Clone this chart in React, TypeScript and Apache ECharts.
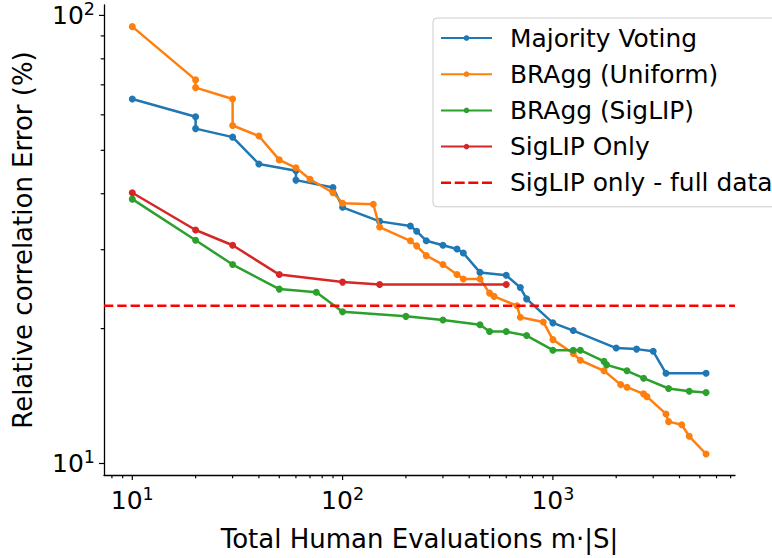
import React, { useEffect, useRef } from 'react';
import * as echarts from 'echarts';

const FONT = 'DejaVu Sans';

// Axis extents (log scale)
const X_MIN = 7.336;
const X_MAX = 7345;
const Y_MIN = 9.426;
const Y_MAX = 105.5;

// Series data
const majorityX = [10, 20, 20, 30, 40, 60, 60, 90, 100, 150, 210, 225, 250, 300, 350, 375, 450, 600, 700, 750, 1000, 1250, 2000, 2500, 3000, 3450, 5350];
const majorityY = [65.1, 59.4, 55.9, 53.5, 46.6, 45.0, 42.9, 41.3, 37.3, 34.7, 33.9, 33.0, 31.4, 30.7, 30.1, 29.5, 26.7, 26.3, 24.7, 23.3, 20.6, 19.8, 18.1, 18.0, 17.8, 15.9, 15.9];

const uniformX = [10, 20, 20, 30, 30, 40, 50, 60, 70, 90, 100, 140, 150, 210, 225, 250, 300, 350, 375, 450, 500, 525, 675, 700, 900, 1000, 1250, 1350, 1750, 2100, 2250, 2700, 2800, 3450, 3550, 4100, 4450, 5350];
const uniformY = [94.4, 71.8, 69.0, 65.1, 56.8, 53.8, 47.6, 45.7, 43.1, 40.2, 38.1, 37.9, 33.7, 31.4, 30.6, 29.1, 27.8, 26.4, 25.8, 25.8, 24.0, 23.6, 22.5, 21.2, 20.7, 18.9, 17.6, 17.0, 16.1, 15.0, 14.8, 14.3, 14.1, 12.9, 12.4, 12.2, 11.5, 10.5];

const siglipAggX = [10, 20, 30, 50, 75, 100, 200, 300, 450, 500, 600, 750, 1000, 1250, 1350, 1750, 1800, 2250, 2700, 3550, 4450, 5350];
const siglipAggY = [38.9, 31.5, 27.8, 24.5, 24.1, 21.8, 21.3, 20.9, 20.4, 19.7, 19.7, 19.3, 17.9, 17.9, 17.9, 16.9, 16.6, 16.1, 15.5, 14.7, 14.5, 14.4];

const siglipOnlyX = [10, 20, 30, 50, 100, 150, 600];
const siglipOnlyY = [40.2, 33.2, 30.7, 26.4, 25.4, 25.1, 25.1];

const fullDataValue = 22.5;

const seriesNames = ['Majority Voting', 'BRAgg (Uniform)', 'BRAgg (SigLIP)', 'SigLIP Only', 'SigLIP only - full data'];
const seriesColors = ['#1f77b4', '#ff7f0e', '#2ca02c', '#d62728', '#ff0000'];

const pairs = (xs: number[], ys: number[]) => xs.map((x, i) => [x, ys[i]]);

const isPow10 = (v: number) => {
  const e = Math.log10(v);
  return Math.abs(e - Math.round(e)) < 1e-6;
};

const logTicks = (lo: number, hi: number) => {
  const out: number[] = [];
  for (let e = -1; e <= 5; e++) {
    for (let m = 1; m <= 9; m++) {
      const v = m * Math.pow(10, e);
      if (v >= lo && v <= hi) out.push(v);
    }
  }
  return out;
};

const labelFmt = (v: number) => {
  if (!isPow10(v)) return '';
  return `{b|10}{s|${Math.round(Math.log10(v))}}`;
};

const rich = {
  b: { fontFamily: FONT, fontSize: 25, lineHeight: 31, color: '#000' },
  s: { fontFamily: FONT, fontSize: 17.5, lineHeight: 17.5, verticalAlign: 'top', color: '#000' },
};

const TICK_W = 1.2;

export default function App() {
  const ref = useRef<HTMLDivElement>(null);
  useEffect(() => {
    document.body.style.margin = '0';
    const chart = echarts.init(ref.current!, undefined, { renderer: 'svg' });
    const lineSeries = [
      [majorityX, majorityY],
      [uniformX, uniformY],
      [siglipAggX, siglipAggY],
      [siglipOnlyX, siglipOnlyY],
    ].map(([xs, ys], i) => ({
      type: 'line',
      name: seriesNames[i],
      data: pairs(xs, ys),
      color: seriesColors[i],
      lineStyle: { width: 2.5, color: seriesColors[i] },
      itemStyle: { color: seriesColors[i], borderWidth: 0 },
      symbol: 'circle',
      symbolSize: 7,
      showSymbol: true,
      silent: true,
      z: 2 + i,
    }));

    const option: any = {
      animation: false,
      grid: { left: 104, right: 37, top: 5, bottom: 83, outerBoundsMode: 'none' },
      xAxis: {
        type: 'log',
        logBase: 10,
        min: X_MIN,
        max: X_MAX,
        name: 'Total Human Evaluations m·|S|',
        nameLocation: 'middle',
        nameGap: 51,
        nameTextStyle: { fontFamily: FONT, fontSize: 26, color: '#000' },
        axisLine: { show: true, onZero: false, lineStyle: { color: '#000', width: 1.3 } },
        axisTick: { show: false },
        minorTick: { show: false },
        splitLine: { show: false },
        axisLabel: { formatter: labelFmt, margin: 10, rich, showMinLabel: true, showMaxLabel: true },
      },
      yAxis: {
        type: 'log',
        logBase: 10,
        min: Y_MIN,
        max: Y_MAX,
        name: 'Relative correlation Error (%)',
        nameLocation: 'middle',
        nameGap: 68,
        nameTextStyle: { fontFamily: FONT, fontSize: 26, color: '#000' },
        axisLine: { show: true, onZero: false, lineStyle: { color: '#000', width: 1.3 } },
        axisTick: { show: false },
        minorTick: { show: false },
        splitLine: { show: false },
        axisLabel: { formatter: labelFmt, margin: 9, rich },
      },
      legend: {
        orient: 'vertical',
        left: 433,
        top: 18,
        padding: [6, 12, 10, 7],
        itemWidth: 51,
        itemHeight: 7,
        itemGap: 8.2,
        backgroundColor: 'rgba(255,255,255,0.8)',
        borderColor: '#cccccc',
        borderWidth: 1,
        borderRadius: 4,
        selectedMode: false,
        textStyle: { fontFamily: FONT, fontSize: 24.9, lineHeight: 28, color: '#000', padding: [0, 0, 0, 13] },
        data: [
          seriesNames[0],
          seriesNames[1],
          seriesNames[2],
          seriesNames[3],
          {
            name: seriesNames[4],
            icon: 'path://M0,0h10v2.5h-10z M13.7,0h10v2.5h-10z M27.3,0h10v2.5h-10z M41,0h10v2.5h-10z',
            itemStyle: { color: seriesColors[4], borderWidth: 0 },
          },
        ],
      },
      series: [
        ...lineSeries,
        {
          type: 'line',
          name: seriesNames[4],
          data: [[X_MIN, fullDataValue], [X_MAX, fullDataValue]],
          color: seriesColors[4],
          symbol: 'none',
          lineStyle: { width: 2.5, color: seriesColors[4], type: [9.3, 4] },
          silent: true,
          z: 7,
        },
        {
          type: 'custom',
          coordinateSystem: 'cartesian2d',
          silent: true,
          clip: false,
          data: logTicks(X_MIN, X_MAX).map((v) => [v, Y_MIN]),
          renderItem: (_p: any, api: any) => {
            const v = api.value(0);
            const pt = api.coord([v, Y_MIN]);
            const len = isPow10(v) ? 5 : 3.3;
            return {
              type: 'line',
              shape: { x1: pt[0], y1: pt[1], x2: pt[0], y2: pt[1] + len },
              style: { stroke: '#000', lineWidth: TICK_W },
            };
          },
          z: 10,
        },
        {
          type: 'custom',
          coordinateSystem: 'cartesian2d',
          silent: true,
          clip: false,
          data: logTicks(Y_MIN, Y_MAX).map((v) => [X_MIN, v]),
          renderItem: (_p: any, api: any) => {
            const v = api.value(1);
            const pt = api.coord([X_MIN, v]);
            const len = isPow10(v) ? 5 : 3.3;
            return {
              type: 'line',
              shape: { x1: pt[0], y1: pt[1], x2: pt[0] - len, y2: pt[1] },
              style: { stroke: '#000', lineWidth: TICK_W },
            };
          },
          z: 10,
        },
      ],
    };
    chart.setOption(option);
    return () => chart.dispose();
  }, []);
  return (
    <div
      ref={ref}
      style={{ position: 'absolute', left: 0, top: 0, width: 772, height: 558, background: '#fff' }}
    />
  );
}
